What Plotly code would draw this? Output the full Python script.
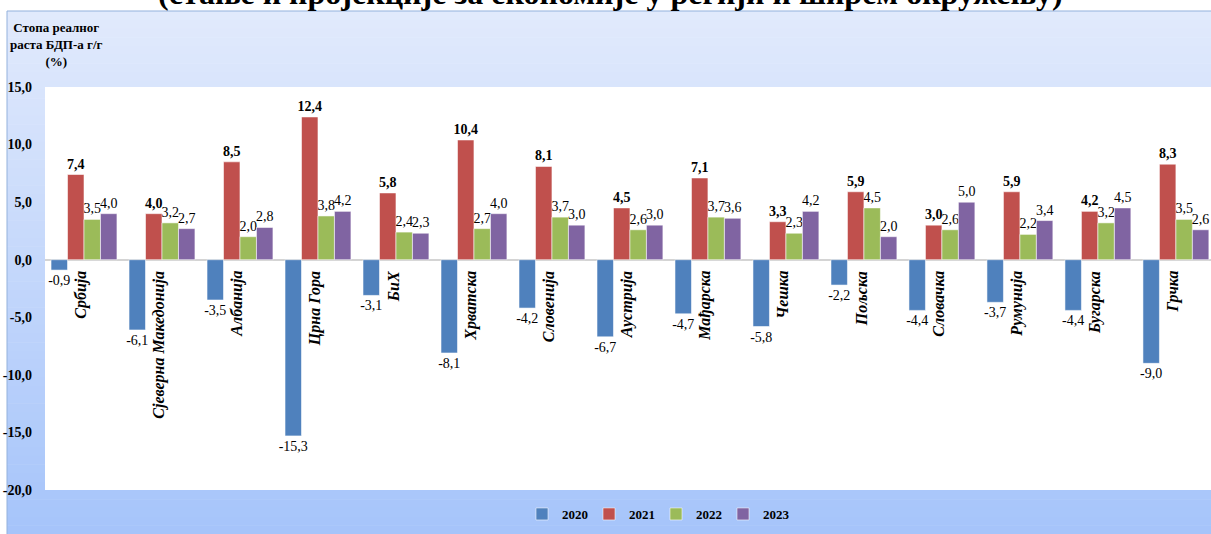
import plotly.graph_objects as go

countries = ["Србија", "Сјеверна Македонија", "Албанија", "Црна Гора", "БиХ", "Хрватска",
             "Словенија", "Аустрија", "Мађарска", "Чешка", "Пољска", "Словачка",
             "Румунија", "Бугарска", "Грчка"]
years = ["2020", "2021", "2022", "2023"]
v2020 = [-0.9, -6.1, -3.5, -15.3, -3.1, -8.1, -4.2, -6.7, -4.7, -5.8, -2.2, -4.4, -3.7, -4.4, -9.0]
v2021 = [7.4, 4.0, 8.5, 12.4, 5.8, 10.4, 8.1, 4.5, 7.1, 3.3, 5.9, 3.0, 5.9, 4.2, 8.3]
v2022 = [3.5, 3.2, 2.0, 3.8, 2.4, 2.7, 3.7, 2.6, 3.7, 2.3, 4.5, 2.6, 2.2, 3.2, 3.5]
v2023 = [4.0, 2.7, 2.8, 4.2, 2.3, 4.0, 3.0, 3.0, 3.6, 4.2, 2.0, 5.0, 3.4, 4.5, 2.6]
yticks = [15, 10, 5, 0, -5, -10, -15, -20]

title_text = "(стање и пројекције за економије у регији и ширем окружењу)"
ytitle_lines = ["Стопа реалног", "раста БДП-а г/г", "(%)"]

colors = ["#4f81bd", "#c0504d", "#9bbb59", "#8064a2"]
series = [v2020, v2021, v2022, v2023]
serif = "Liberation Serif"

W, H = 1211, 534
ML, MR, MT, MB = 45, 0, 87, 44
PW, PH = W - ML - MR, H - MT - MB


def px2x(px):
    return (px - ML) / PW


def py2y(py):
    return (H - MB - py) / PH


def fmt(v):
    return f"{v:.1f}".replace(".", ",")


fig = go.Figure()
for yr, vals, col in zip(years, series, colors):
    bold = yr == "2021"
    fig.add_trace(go.Bar(
        name=yr, x=countries, y=vals,
        marker=dict(color=col, line=dict(color="rgba(255,255,255,0.55)", width=1)),
        text=[(f"<b>{fmt(v)}</b>" if bold else fmt(v)) for v in vals],
        textposition="outside", constraintext="none", cliponaxis=False,
        textfont=dict(family=serif, size=14, color="black"),
        hoverinfo="skip",
    ))

# gradient background frame
shapes = []
top, bot = 11, H
N = 60
c0 = (225, 234, 252)
c1 = (166, 196, 250)
for i in range(N):
    a = top + (bot - top) * i / N
    b = top + (bot - top) * (i + 1) / N
    t = (i + 0.5) / N
    c = tuple(int(round(c0[k] + (c1[k] - c0[k]) * t)) for k in range(3))
    shapes.append(dict(type="rect", xref="paper", yref="paper", layer="below",
                       x0=px2x(7), x1=px2x(W + 5), y0=py2y(b + 0.5), y1=py2y(a),
                       fillcolor=f"rgb{c}", line=dict(width=0)))
shapes.append(dict(type="rect", xref="paper", yref="paper", layer="below",
                   x0=px2x(7), x1=px2x(W + 5), y0=py2y(H + 5), y1=py2y(11),
                   fillcolor="rgba(0,0,0,0)", line=dict(color="#93b1dc", width=1)))
# white plotting area
shapes.append(dict(type="rect", xref="paper", yref="paper", layer="below",
                   x0=0, x1=1.01, y0=0, y1=1, fillcolor="white", line=dict(width=0)))

annotations = [
    dict(text="<b>" + title_text + "</b>", xref="paper", yref="paper", x=px2x(610), y=py2y(13),
         xanchor="center", yanchor="bottom", showarrow=False,
         font=dict(family=serif, size=32, color="black")),
    dict(text="<br>".join(f"<b>{s}</b>" for s in ytitle_lines), xref="paper", yref="paper",
         x=px2x(56), y=py2y(44), xanchor="center", yanchor="middle", showarrow=False,
         font=dict(family=serif, size=13, color="black")),
]

for c in countries:
    annotations.append(dict(text=f"<b><i>{c}</i></b>", x=c, y=0, xref="x", yref="y",
                            textangle=-90, xanchor="center", yanchor="top",
                            xshift=-3, yshift=-9, showarrow=False,
                            font=dict(family=serif, size=16, color="black")))

fig.update_layout(
    width=W, height=H,
    margin=dict(l=ML, r=MR, t=MT, b=MB, pad=0),
    paper_bgcolor="white", plot_bgcolor="white",
    barmode="group", bargap=0.155, bargroupgap=0,
    separators=", ",
    showlegend=True,
    legend=dict(orientation="h", x=px2x(522), y=py2y(514), xanchor="left", yanchor="middle",
                bgcolor="rgba(0,0,0,0)",
                font=dict(family=serif, size=13, color="black", weight="bold"),
                itemwidth=30, entrywidth=22, entrywidthmode="pixels", traceorder="normal"),
    shapes=shapes, annotations=annotations,
    xaxis=dict(type="category", range=[-0.5, 14.45], showticklabels=False, showgrid=False,
               zeroline=False, showline=False, ticks=""),
    yaxis=dict(range=[-20, 15], tickvals=yticks, ticktext=[f"<b>{fmt(v)}</b>" for v in yticks],
               showgrid=False, zeroline=True, zerolinecolor="#d4d4d4", zerolinewidth=2,
               showline=False, ticks="", ticklabelstandoff=12,
               tickfont=dict(family=serif, size=14, color="black")),
    font=dict(family=serif),
)

fig.write_html("out.html", config={"displayModeBar": False},
               post_script="document.body.style.margin='0';document.body.style.overflow='hidden';")
